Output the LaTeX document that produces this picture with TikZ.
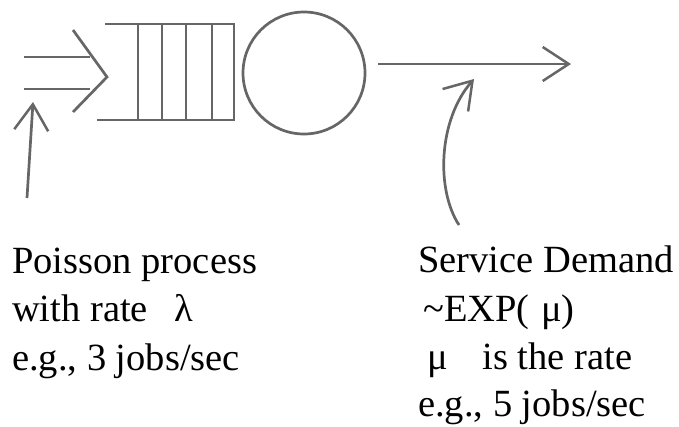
\documentclass[tikz,border=0pt]{standalone}
\usepackage{fontspec}
\setmainfont{Liberation Serif}
\usetikzlibrary{arrows.meta}
\begin{document}
\begin{tikzpicture}[x=1pt,y=-1pt,
  ln/.style={draw=black!60,line width=2.7pt},
  barb/.style={-{Straight Barb[length=26pt,width=34pt,line width=2.5pt]}},
  lbl/.style={anchor=base west,inner sep=0pt,font=\fontsize{38.5}{46}\selectfont}]
\useasboundingbox (0,0) rectangle (679,426);
% input double arrow
\coordinate (in1a) at (24,57); \coordinate (in1b) at (90,57);
\coordinate (in2a) at (24,89); \coordinate (in2b) at (90,89);
\coordinate (chT) at (73,30); \coordinate (chTip) at (107,77); \coordinate (chB) at (73,112);
\draw[ln] (in1a) -- (in1b);
\draw[ln] (in2a) -- (in2b);
\draw[ln] (chT) -- (chTip) -- (chB);
% queue
\coordinate (qTL) at (105,24); \coordinate (qTR) at (235,24);
\coordinate (qBL) at (97,120); \coordinate (qBR) at (235,120);
\draw[ln] (qTL) -- (qTR);
\draw[ln] (qBL) -- (qBR);
\foreach \x in {138,162,186,212,234}{\draw[ln] (\x,24) -- (\x,120);}
% server
\node[ln,circle,minimum size=122pt,inner sep=0pt] (server) at (304,73) {};
% output arrow
\coordinate (outA) at (378,64); \coordinate (outB) at (571,64);
\draw[ln,barb] (outA) -- (outB);
% text
\node[lbl] (p1) at (12,273) {Poisson process};
\node[lbl] (p2) at (12,321) {with rate\hspace{0.7em}λ};
\node[lbl] (p3) at (12,370) {e.g., 3 jobs/sec};
\node[lbl] (s1) at (418,272) {Service Demand};
\node[lbl] (s2) at (423,321) {\char`\~EXP(\hspace{0.3em}μ)};
\node[lbl] (s3) at (427,369) {μ\hspace{0.9em}is the rate};
\node[lbl] (s4) at (418,416) {e.g., 5 jobs/sec};
% pointer arrows
\coordinate (pA) at (27,198); \coordinate (pB) at (33,102);
\draw[ln,barb] (pA) -- (pB);
\coordinate (sA) at (459,225); \coordinate (sB) at (474,79);
\draw[ln,barb] (sA) .. controls (436,190) and (438,120) .. (sB);
\end{tikzpicture}
\end{document}
